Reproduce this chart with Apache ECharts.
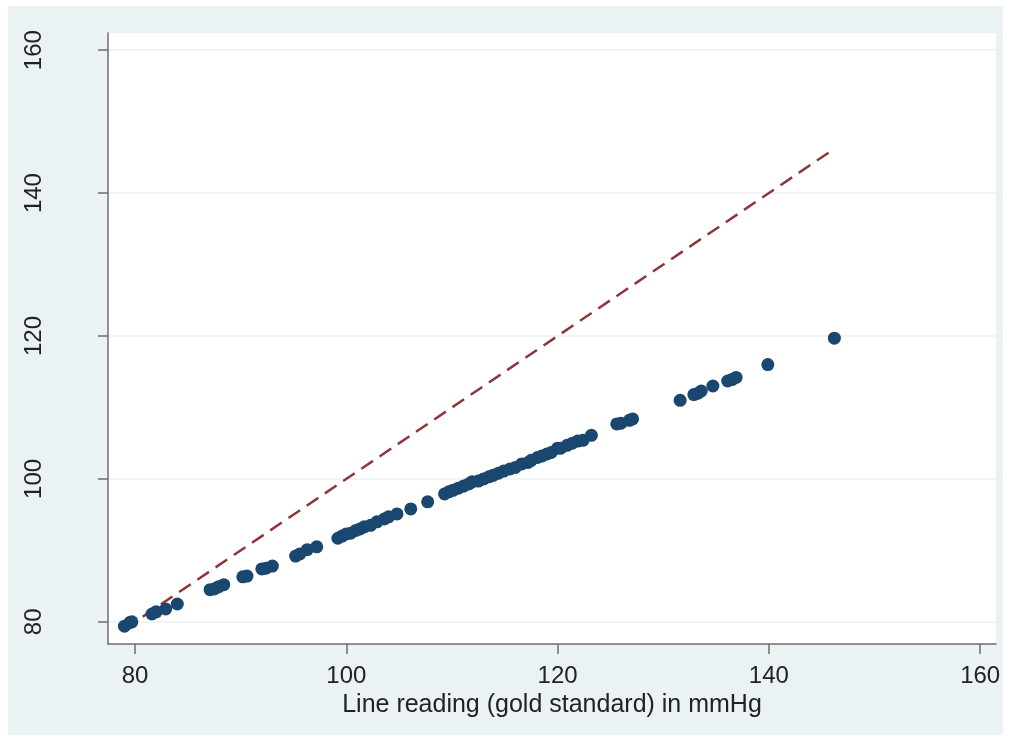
<!DOCTYPE html>
<html>
<head>
<meta charset="utf-8">
<script src="https://cdn.jsdelivr.net/npm/echarts@6/dist/echarts.min.js"></script>
<style>
  html, body { margin: 0; padding: 0; background: #ffffff; }
  #bg { position: absolute; left: 8px; top: 6px; width: 995px; height: 729px; background: #eaf2f3; }
  #chart { position: absolute; left: 0; top: 0; width: 1012px; height: 741px; }
</style>
</head>
<body>
<div id="bg"></div>
<div id="chart"></div>
<script>
// Gold standard line reading (mmHg)
const lineReading = [
  79.0, 79.5, 79.7, 81.6, 82.0, 82.9, 84.0,
  87.1, 87.5, 87.9, 88.4, 90.2, 90.6, 92.0, 92.4, 93.0,
  95.2, 95.6, 96.3, 97.2,
  99.2, 99.6, 100.0, 100.4, 100.9, 101.3, 101.7, 102.3, 102.9, 103.6, 104.0, 104.8, 106.1,
  107.7, 109.3, 109.7, 110.1, 110.6, 111.1, 111.6, 111.9, 112.5, 113.0, 113.5, 113.9, 114.4,
  114.9, 115.5, 116.0, 116.6, 117.2, 117.5, 118.1, 118.5, 119.0, 119.4, 120.0, 120.3, 120.9,
  121.4, 121.9, 122.4, 123.2,
  125.6, 126.0, 126.8, 127.1,
  131.6, 132.9, 133.3, 133.6, 134.7, 136.1, 136.5, 136.9, 139.9, 146.2
];
// Device reading (mmHg)
const deviceReading = [
  79.4, 79.9, 80.0, 81.1, 81.4, 81.8, 82.5,
  84.5, 84.6, 84.9, 85.2, 86.3, 86.4, 87.4, 87.5, 87.8,
  89.2, 89.5, 90.1, 90.5,
  91.7, 92.0, 92.3, 92.4, 92.8, 93.0, 93.3, 93.5, 94.0, 94.4, 94.7, 95.1, 95.8,
  96.8, 97.9, 98.2, 98.4, 98.7, 99.0, 99.3, 99.6, 99.7, 100.0, 100.3, 100.5, 100.8,
  101.1, 101.4, 101.6, 102.1, 102.3, 102.6, 103.0, 103.2, 103.5, 103.7, 104.3, 104.3, 104.7,
  105.0, 105.3, 105.4, 106.1,
  107.7, 107.8, 108.2, 108.4,
  111.0, 111.8, 112.0, 112.3, 113.0, 113.7, 113.9, 114.2, 116.0, 119.7
];
// Line of equality endpoints
const equalityX = [79.0, 146.2];
const equalityY = [79.0, 146.2];

const xTicks = [80, 100, 120, 140, 160];
const yTicks = [80, 100, 120, 140, 160];
const xTitle = 'Line reading (gold standard) in mmHg';

const scatterData = lineReading.map((x, i) => [x, deviceReading[i]]);
const lineData = equalityX.map((x, i) => [x, equalityY[i]]);

const chart = echarts.init(document.getElementById('chart'), null, { renderer: 'canvas' });
const fontFam = '"Liberation Sans", Arial, Helvetica, sans-serif';
chart.setOption({
  backgroundColor: 'transparent',
  animation: false,
  grid: {
    left: 108, top: 33, width: 888, height: 611,
    show: true, backgroundColor: '#ffffff', borderWidth: 0
  },
  xAxis: {
    type: 'value',
    min: 77.44, max: 161.5,
    name: xTitle,
    nameLocation: 'middle',
    nameGap: 45,
    nameTextStyle: { fontSize: 25, color: '#222', fontFamily: fontFam },
    axisLine: { show: true, onZero: false, lineStyle: { color: '#6e6e6e', width: 1.5 } },
    axisTick: { show: true, length: 10, lineStyle: { color: '#6e6e6e', width: 1.5 }, customValues: xTicks },
    axisLabel: { fontSize: 24, color: '#222', fontFamily: fontFam, margin: 20, customValues: xTicks },
    splitLine: { show: false }
  },
  yAxis: {
    type: 'value',
    min: 76.9, max: 162.4,
    name: '',
    axisLine: { show: true, onZero: false, lineStyle: { color: '#6e6e6e', width: 1.5 } },
    axisTick: { show: true, length: 10, lineStyle: { color: '#6e6e6e', width: 1.5 }, customValues: yTicks },
    axisLabel: { fontSize: 24, color: '#222', fontFamily: fontFam, rotate: 90, margin: 62, customValues: yTicks },
    splitLine: { show: true, lineStyle: { color: '#eaf2f3', width: 1.5 }, customValues: yTicks }
  },
  series: [
    {
      type: 'line',
      data: lineData,
      symbol: 'none',
      lineStyle: { color: '#90353b', width: 2.5, type: [14, 8] },
      z: 2
    },
    {
      type: 'scatter',
      data: scatterData,
      symbol: 'circle',
      symbolSize: 13,
      itemStyle: { color: '#1a476f', opacity: 1 },
      z: 3
    }
  ]
});
</script>
</body>
</html>
